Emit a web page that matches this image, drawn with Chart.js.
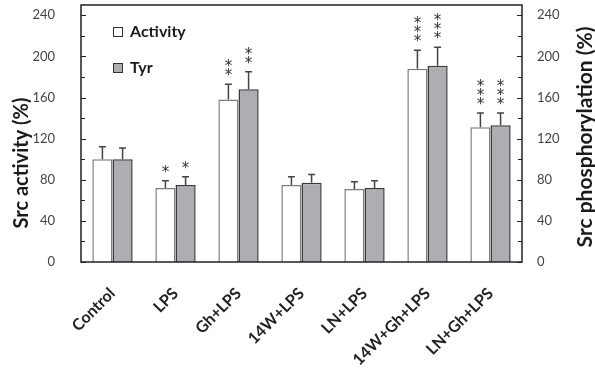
<!DOCTYPE html>
<html>
<head>
<meta charset="utf-8">
<script src="https://cdn.jsdelivr.net/npm/chart.js@4/dist/chart.umd.min.js"></script>
<style>
  html, body { margin: 0; padding: 0; background: #fff; }
  #wrap { width: 595px; height: 370px; }
</style>
</head>
<body>
<div id="wrap"><canvas id="src-chart" width="595" height="370"></canvas></div>
<script>
var groups = ['Control', 'LPS', 'Gh+LPS', '14W+LPS', 'LN+LPS', '14W+Gh+LPS', 'LN+Gh+LPS'];
var activity = [100, 72, 158, 75, 71, 188, 131];
var activityErr = [12, 7, 15, 8, 7, 18, 14];
var tyr = [100, 75, 168, 77, 72, 191, 133];
var tyrErr = [11, 8, 17, 8, 7, 18, 12];
var activityStars = [0, 1, 2, 0, 0, 3, 3];
var tyrStars = [0, 1, 2, 0, 0, 3, 3];
var yTicks = [0, 20, 40, 60, 80, 100, 120, 140, 160, 180, 200, 220, 240];

var FONT = 'Lato, "Open Sans", sans-serif';

function setTicks(scale) {
    scale.ticks = yTicks.map(function (v) { return { value: v }; });
}
function tickLabel(v) {
    return v % 40 === 0 ? v : '';
}
function fitSide(width) {
    return function (scale) {
        scale.width = width;
        // the big label padding must not push the plot down
        scale.paddingTop = 0;
        scale.paddingBottom = 0;
    };
}

function drawVerticalTitle(ctx, text, x, y, size) {
    ctx.save();
    ctx.translate(x, y);
    ctx.rotate(-Math.PI / 2);
    ctx.fillStyle = '#1a1a1a';
    ctx.font = 'bold ' + size + 'px ' + FONT;
    ctx.textAlign = 'center';
    ctx.textBaseline = 'middle';
    ctx.fillText(text, 0, 0);
    ctx.restore();
}

// error bars, significance stars, frame, inward ticks, legend, axis titles
var decorations = {
    id: 'decorations',
    afterDatasetsDraw: function (chart) {
        var ctx = chart.ctx;
        var y = chart.scales.y;
        var area = chart.chartArea;
        var errs = [activityErr, tyrErr];
        var stars = [activityStars, tyrStars];

        ctx.save();
        chart.data.datasets.forEach(function (ds, i) {
            var meta = chart.getDatasetMeta(i);
            meta.data.forEach(function (bar, j) {
                var top = y.getPixelForValue(ds.data[j] + errs[i][j]);
                ctx.strokeStyle = '#444';
                ctx.lineWidth = 1.5;
                ctx.beginPath();
                ctx.moveTo(bar.x, bar.y);
                ctx.lineTo(bar.x, top);
                ctx.moveTo(bar.x - 3.5, top);
                ctx.lineTo(bar.x + 3.5, top);
                ctx.stroke();

                ctx.fillStyle = '#333';
                ctx.font = '15px "DejaVu Sans", sans-serif';
                ctx.textAlign = 'center';
                ctx.textBaseline = 'middle';
                for (var k = 0; k < stars[i][j]; k++) {
                    ctx.fillText('*', bar.x, top - 8 - k * 9);
                }
            });
        });

        // frame
        ctx.strokeStyle = '#222';
        ctx.lineWidth = 1.5;
        ctx.strokeRect(area.left, area.top, area.right - area.left, area.bottom - area.top);

        // inward ticks on both sides
        ctx.lineWidth = 1;
        ctx.beginPath();
        yTicks.forEach(function (v) {
            var py = Math.round(y.getPixelForValue(v)) + 0.5;
            var len = v % 40 === 0 ? 5 : 4;
            ctx.moveTo(area.left, py);
            ctx.lineTo(area.left + len, py);
            ctx.moveTo(area.right, py);
            ctx.lineTo(area.right - len, py);
        });
        ctx.stroke();

        // legend inside the plot
        var boxes = [[113, 27], [113, 63]];
        chart.data.datasets.forEach(function (ds, i) {
            ctx.fillStyle = ds.backgroundColor;
            ctx.fillRect(boxes[i][0], boxes[i][1], 9, 9);
            ctx.strokeStyle = '#333';
            ctx.lineWidth = 1;
            ctx.strokeRect(boxes[i][0] + 0.5, boxes[i][1] + 0.5, 9, 9);
            ctx.fillStyle = '#1a1a1a';
            ctx.font = 'bold 16px ' + FONT;
            ctx.textAlign = 'left';
            ctx.textBaseline = 'middle';
            ctx.fillText(ds.label, 130, boxes[i][1] + 5);
        });
        ctx.restore();

        drawVerticalTitle(ctx, 'Src activity (%)', 22, 163, 20);
        drawVerticalTitle(ctx, 'Src phosphorylation (%)', 585, 137, 21);
    }
};

var ctx = document.getElementById('src-chart').getContext('2d');

new Chart(ctx, {
    type: 'bar',
    data: {
        labels: groups,
        datasets: [{
            label: 'Activity',
            data: activity,
            backgroundColor: '#ffffff',
            borderColor: '#7d7d7d',
            borderWidth: 1.5,
            yAxisID: 'y'
        }, {
            label: 'Tyr',
            data: tyr,
            backgroundColor: '#aeadb2',
            borderColor: '#3a3a3a',
            borderWidth: 1.5,
            yAxisID: 'y'
        }]
    },
    plugins: [decorations],
    options: {
        responsive: false,
        animation: false,
        layout: { padding: { top: 5 } },
        categoryPercentage: 0.64,
        barPercentage: 1.0,
        plugins: {
            legend: { display: false },
            tooltip: { enabled: false }
        },
        scales: {
            x: {
                grid: { display: false, drawTicks: false },
                border: { display: false },
                ticks: {
                    minRotation: 45,
                    maxRotation: 45,
                    padding: 22,
                    color: '#222',
                    font: { family: FONT, size: 16, weight: 'bold' }
                },
                afterFit: function (scale) { scale.height = 108; }
            },
            y: {
                position: 'left',
                min: 0,
                max: 250,
                afterBuildTicks: setTicks,
                grid: { display: false, drawTicks: false },
                border: { display: false },
                ticks: {
                    padding: 26,
                    color: '#444',
                    font: { family: FONT, size: 13 },
                    callback: tickLabel
                },
                afterFit: fitSide(81)
            },
            y1: {
                position: 'right',
                min: 0,
                max: 250,
                afterBuildTicks: setTicks,
                grid: { display: false, drawTicks: false },
                border: { display: false },
                ticks: {
                    padding: 15,
                    color: '#444',
                    font: { family: FONT, size: 13 },
                    callback: tickLabel
                },
                afterFit: fitSide(73)
            }
        }
    }
});
</script>
</body>
</html>
